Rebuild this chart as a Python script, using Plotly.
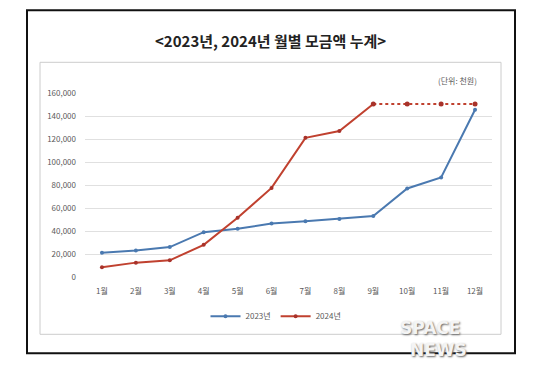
import plotly.graph_objects as go

months = ["1월", "2월", "3월", "4월", "5월", "6월", "7월", "8월", "9월", "10월", "11월", "12월"]
v2023 = [21000, 23000, 26000, 39000, 42000, 46500, 48500, 50500, 53000, 77000, 86500, 145500]
months_2024 = months[:9]
v2024 = [8500, 12500, 14500, 28000, 51500, 77500, 121000, 127000, 150500]
months_2024_proj = months[8:]
v2024_proj = [150500, 150500, 150500, 150500]
y_ticks = [0, 20000, 40000, 60000, 80000, 100000, 120000, 140000, 160000]

BLUE = "#4a79b0"
RED = "#c0412f"
FONT = "Noto Sans CJK KR"

OFF = 8  # page body margin
W, H = 541 - OFF, 378 - OFF
L, R, T, B = 85 - OFF, 492 - OFF, 92.7 - OFF, 276.7 - OFF

def px(x):
    return (x - OFF - L) / (R - L)

def py(y):
    return (B - (y - OFF)) / (B - T)

fig = go.Figure()
fig.add_trace(go.Scatter(x=months, y=v2023, name="2023년", mode="lines+markers",
                         line=dict(color=BLUE, width=2), marker=dict(size=4, color=BLUE)))
fig.add_trace(go.Scatter(x=months_2024, y=v2024, name="2024년", mode="lines+markers",
                         line=dict(color=RED, width=2), marker=dict(size=4, color="#a8322a")))
fig.add_trace(go.Scatter(x=months_2024_proj, y=v2024_proj, name="2024년 (예상)", mode="lines+markers",
                         showlegend=False,
                         line=dict(color=RED, width=2, dash="dot"), marker=dict(size=5, color="#a8322a")))

fig.update_layout(
    width=W, height=H,
    margin=dict(l=L, r=W - R, t=T, b=H - B),
    paper_bgcolor="white", plot_bgcolor="white",
    font=dict(family=FONT, size=8, color="#595959"),
    showlegend=True,
    legend=dict(orientation="h", x=px(276), xanchor="center", y=py(316), yanchor="middle",
                font=dict(size=8, color="#595959"), itemwidth=30, bgcolor="rgba(0,0,0,0)"),
    xaxis=dict(type="category", categoryorder="array", categoryarray=months,
               range=[-0.5, 11.5], showgrid=False, showline=False, ticks="",
               tickfont=dict(size=8, color="#595959"), ticklabelstandoff=8),
    yaxis=dict(range=[0, 160000], tickvals=y_ticks, tickformat=",d",
               showgrid=True, gridcolor="#e0e0e0", gridwidth=1, zeroline=False,
               showline=False, ticks="", ticklabelstandoff=8,
               tickfont=dict(size=8, color="#595959")),
    shapes=[
        dict(type="rect", xref="paper", yref="paper", x0=px(27), x1=px(515), y0=py(353), y1=py(10),
             line=dict(color="#111111", width=2), layer="below"),
        dict(type="rect", xref="paper", yref="paper", x0=px(40), x1=px(501), y0=py(334), y1=py(62),
             line=dict(color="#cccccc", width=1), layer="below"),
    ],
    annotations=[
        dict(text="<b><2023년, 2024년 월별 모금액 누계></b>", xref="paper", yref="paper",
             x=px(270), y=py(40), xanchor="center", yanchor="middle", showarrow=False,
             font=dict(family=FONT, size=15, color="#222222")),
        dict(text="(단위: 천원)", xref="paper", yref="paper", x=px(479), y=py(80),
             xanchor="right", yanchor="middle", showarrow=False,
             font=dict(family=FONT, size=8, color="#595959")),
        dict(text="<b>SPACE</b>", xref="paper", yref="paper", x=px(430), y=py(328),
             xanchor="center", yanchor="middle", showarrow=False,
             font=dict(family="DejaVu Sans", size=17, color="#f4f4f4", shadow="1px 1px 2px #666")),
        dict(text="<b>NEWS</b>", xref="paper", yref="paper", x=px(438), y=py(350),
             xanchor="center", yanchor="middle", showarrow=False,
             font=dict(family="DejaVu Sans", size=17, color="#f4f4f4", shadow="1px 1px 2px #666")),
    ],
)

fig.write_html("out.html")
